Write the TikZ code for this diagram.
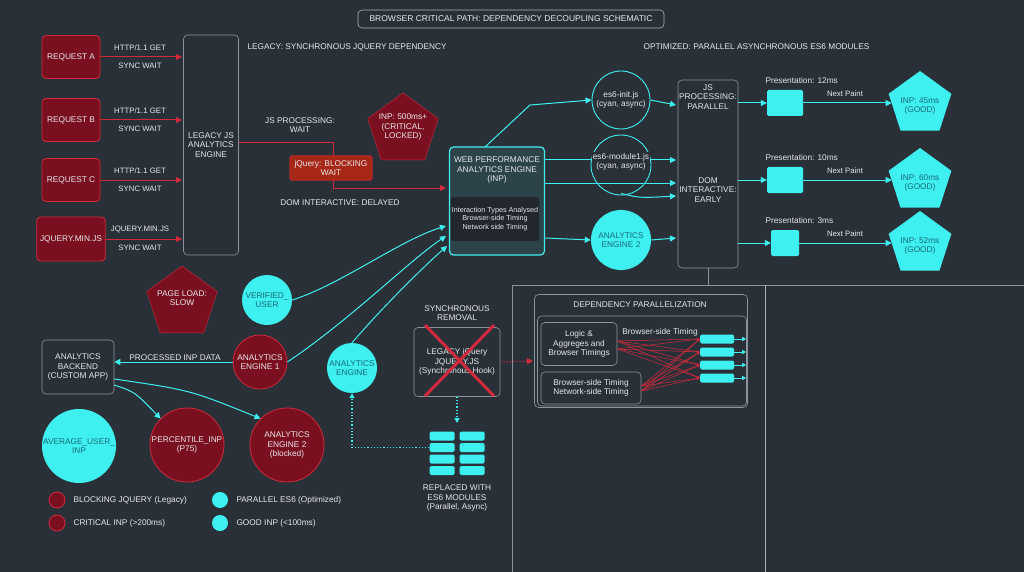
\documentclass[tikz,border=0pt]{standalone}
\usepackage{fontspec}
\setmainfont{Liberation Sans}
\usetikzlibrary{shapes.geometric,arrows.meta}
\definecolor{bg}{HTML}{2A3038}
\definecolor{rfill}{HTML}{7A0F20}
\definecolor{rline}{HTML}{D02A3C}
\definecolor{cy}{HTML}{3EF0F0}
\definecolor{gr}{HTML}{8A949C}
\definecolor{ofill}{HTML}{A82818}
\definecolor{txt}{HTML}{E6E8EA}
\definecolor{dtxt}{HTML}{1A6A78}
\begin{document}
\begin{tikzpicture}[x=1pt,y=-1pt,
  every node/.style={font=\fontsize{8.3}{9.5}\selectfont,text=txt,align=center},
  rbox/.style={draw=rline,fill=rfill,rounded corners=4pt,line width=0.8pt},
  gbox/.style={draw=gr,rounded corners=4pt,line width=0.6pt},
  rcirc/.style={circle,draw=rline,fill=rfill,line width=0.8pt,inner sep=0pt},
  ccirc/.style={circle,fill=cy,inner sep=0pt,text=dtxt},
  ocirc/.style={circle,draw=cy,line width=0.9pt,inner sep=0pt},
  rpent/.style={regular polygon,regular polygon sides=5,draw=rline,fill=rfill,inner sep=0pt},
  cpent/.style={regular polygon,regular polygon sides=5,fill=cy,inner sep=0pt,text=dtxt},
  rar/.style={-{Triangle[length=6pt,width=6pt]},draw=rline,line width=1pt},
  car/.style={-{Triangle[length=6pt,width=6pt]},draw=cy,line width=1pt},
  csq/.style={fill=cy,rounded corners=1.5pt,inner sep=0pt},
  lbl/.style={font=\fontsize{7.8}{9}\selectfont}]
\fill[bg] (0,0) rectangle (1024,572);
\useasboundingbox (0,0) rectangle (1024,572);
% title
\node[gbox,draw=gr!70,minimum width=306pt,minimum height=18pt,font=\fontsize{8.5}{9}\selectfont] (title) at (511,19) {BROWSER CRITICAL PATH: DEPENDENCY DECOUPLING SCHEMATIC};
% legacy side
\node[rbox,minimum width=58pt,minimum height=43pt] (ra) at (71,57) {REQUEST A};
\node[rbox,minimum width=58pt,minimum height=43pt] (rb) at (71,120) {REQUEST B};
\node[rbox,minimum width=58pt,minimum height=43pt] (rc) at (71,180) {REQUEST C};
\node[rbox,minimum width=67pt,minimum height=44pt] (jq) at (71,239) {JQUERY.MIN.JS};
\node[gbox,minimum width=55pt,minimum height=220pt] (leg) at (211,145) {LEGACY JS\\ANALYTICS\\ENGINE};
\foreach \n/\y in {ra/57,rb/120,rc/180,jq/239}{
  \coordinate (e\n) at (182,\y);
  \draw[rar] (\n.east|-e\n) -- (e\n);
  \node[lbl] at (140,\y+9) {SYNC WAIT};
}
\node[lbl] at (140,48) {HTTP/1.1 GET};
\node[lbl] at (140,111) {HTTP/1.1 GET};
\node[lbl] at (140,171) {HTTP/1.1 GET};
\node[lbl] at (140,230) {JQUERY.MIN.JS};
\node[anchor=west] (legt) at (244,47) {LEGACY: SYNCHRONOUS JQUERY DEPENDENCY};
\node (jsw) at (300,125) {JS PROCESSING:\\WAIT};
\node[rpent,minimum size=74pt] (inp500) at (403,130) {};
\node at (403,127) {INP: 500ms+\\(CRITICAL,\\LOCKED)};
\node (domd) at (340,203) {DOM INTERACTIVE: DELAYED};
% web engine
\node[draw=cy,line width=1.2pt,fill=cy!10!bg,rounded corners=4pt,minimum width=95pt,minimum height=108pt] (web) at (497,201) {};
\node at (497,170) {WEB PERFORMANCE\\ANALYTICS ENGINE\\(INP)};
\node[fill=bg!80!black,rounded corners=3pt,minimum width=84pt,minimum height=44pt,inner sep=1pt,font=\fontsize{7.2}{8.5}\selectfont] (webin) at (495,219) {Interaction Types Analysed\\Browser-side Timing\\Network side Timing};
\coordinate (webl) at (446,188);
\draw[rar] (leg.east|-0,143) -- (333,143) -- (333,188) -- (webl);
\node[fill=ofill,draw=rline,rounded corners=3pt,minimum width=83pt,minimum height=25pt] (block) at (331,168) {jQuery: BLOCKING\\WAIT};
% right side
\node[ocirc,minimum size=58pt] (es1) at (621,100) {};
\node at (621,100) {es6-init.js\\(cyan, async)};
\coordinate (w1) at (530,105);
\draw[car] (web.north|-0,147) ++(-12,0) -- (w1) -- (es1.west);
\draw[car] (es1.east) -- (676,105);
\draw[car] (web.east|-0,160) -- (676,160);
\draw[car] (web.east|-0,183) -- (676,183);
\node[ocirc,minimum size=60pt] (es2) at (621,165) {};
\node[fill=bg,inner sep=1pt] at (621,162) {es6-module1.js\\(cyan, async)};
\node[ccirc,minimum size=60pt] (ae2) at (621,240) {ANALYTICS\\ENGINE 2};
\node[gbox,minimum width=60pt,minimum height=188pt] (jsp) at (708,174) {};
\node at (708,97) {JS\\PROCESSING:\\PARALLEL};
\node at (708,190) {DOM\\INTERACTIVE:\\EARLY};
\draw[car] (es2.south) ++(0,-2) .. controls (640,198) .. (676,196);
\draw[car] (web.east|-0,238) -- (ae2.west);
\draw[car] (ae2.east) -- (676,238);
\foreach \i/\y/\w/\p/\v in {1/103/36/12ms/45ms,2/180/36/10ms/60ms,3/243/28/3ms/52ms}{
  \node[csq,minimum width=\w pt,minimum height=26pt] (sq\i) at (785,\y) {};
  \node[cpent,minimum size=66pt] (ip\i) at (920,\y+1) {};
  \node[text=dtxt] at (920,\y+3) {INP: \v\\(GOOD)};
  \node[anchor=west] at (762,\y-22) {Presentation: \p};
  \node[lbl] at (845,\y-9) {Next Paint};
  \draw[car] (jsp.east|-sq\i) -- (sq\i.west);
  \draw[car] (sq\i.east) -- (ip\i.west|-sq\i);
}
\node[anchor=west] (optt) at (640,47) {OPTIMIZED: PARALLEL ASYNCHRONOUS ES6 MODULES};
% panel lines
\draw[gr,line width=0.6pt] (jsp.south) -- (708,285);
\draw[gr,line width=0.6pt] (512,572) -- (512,285) -- (1024,285);
\draw[gr!70,line width=0.6pt] (765,285) -- (765,572);
% dependency parallelization
\node[gbox,minimum width=213pt,minimum height=113pt] (dep) at (641,351) {};
\node at (640,305) {DEPENDENCY PARALLELIZATION};
\node[gbox,minimum width=209pt,minimum height=90pt] (depin) at (642,361) {};
\node[gbox,minimum width=76pt,minimum height=43pt] (logic) at (579,344) {Logic \&\\Aggreges and\\Browser Timings};
\node[gbox,minimum width=100pt,minimum height=32pt] (bst) at (591,388) {Browser-side Timing\\Network-side Timing};
\node at (660,332) {Browser-side Timing};
\foreach \j/\y in {1/339,2/352,3/365,4/378}{
  \node[csq,minimum width=34pt,minimum height=9pt] (bar\j) at (717,\y) {};
  \draw[-{Triangle[length=4pt,width=4pt]},cy,line width=0.8pt] (bar\j.east) -- ++(12,0);
}
\foreach \j in {1,...,4}{
  \draw[rline,line width=0.5pt,-{Stealth[length=3pt]}] (logic.east) ++(0,-3) -- (bar\j.west);
  \draw[rline,line width=0.5pt,-{Stealth[length=3pt]}] (logic.east) ++(0,5) -- (bar\j.west);
  \draw[rline,line width=0.5pt,-{Stealth[length=3pt]}] (bst.east) ++(0,-2) -- (bar\j.west);
  \draw[rline,line width=0.5pt,-{Stealth[length=3pt]}] (bst.east) ++(0,3) -- (bar\j.west);
}
% synchronous removal
\node (srt) at (457,313) {SYNCHRONOUS\\REMOVAL};
\node[gbox,minimum width=86pt,minimum height=69pt] (lj) at (457,362) {LEGACY jQuery\\JQUERY.JS\\(Synchronous Hook)};
\draw[rline,line width=3pt] (425,325) -- (494,396) (494,325) -- (425,396);
\draw[rline,dotted,line width=1.2pt,-{Triangle[length=6pt,width=6pt]}] (lj.east) -- (533,361);
\foreach \c/\x in {0/442,1/472}{\foreach \r in {0,...,3}{
  \node[csq,minimum width=25pt,minimum height=9pt] (g\c\r) at (\x,436+\r*11.5) {};}}
\draw[cy,dotted,line width=1.2pt,-{Triangle[length=5pt,width=5pt]}] (lj.south) -- (457,423);
\node (repl) at (457,498) {REPLACED WITH\\ES6 MODULES\\(Parallel, Async)};
% lower left
\node[rpent,minimum size=74pt] (pl) at (182,303) {};
\node at (182,298) {PAGE LOAD:\\SLOW};
\node[ccirc,minimum size=50pt] (vu) at (267,300) {VERIFIED\_\\USER};
\node[rcirc,minimum size=54pt] (ae1) at (260,362) {ANALYTICS\\ENGINE 1};
\node[ccirc,minimum size=50pt] (ae) at (352,368) {ANALYTICS\\ENGINE};
\node[gbox,minimum width=72pt,minimum height=54pt] (back) at (78,367) {ANALYTICS\\BACKEND\\(CUSTOM APP)};
\node (pid) at (175,358) {PROCESSED INP DATA};
\draw[car] (ae1.west) -- (back.east|-ae1);
\draw[car] (vu.east) .. controls (340,285) and (400,240) .. (446,226);
\draw[car] (ae1.east) .. controls (350,320) and (410,260) .. (446,236);
\draw[car] (ae.north) .. controls (380,310) and (420,270) .. (447,246);
\draw[cy,dotted,line width=1.2pt,-{Triangle[length=5pt,width=5pt]}] (g01.west) -| (ae.south);
\node[ccirc,minimum size=74pt] (avg) at (79,446) {AVERAGE\_USER\_\\INP};
\node[rcirc,minimum size=74pt] (pct) at (187,445) {PERCENTILE\_INP\\(P75)};
\node[rcirc,minimum size=74pt] (ae2b) at (287,445) {ANALYTICS\\ENGINE 2\\(blocked)};
\draw[car] (back.east|-0,385) .. controls (135,392) .. (pct.north west);
\draw[car] (back.east|-0,379) .. controls (190,390) .. (ae2b.north west);
% legend
\node[rcirc,minimum size=16pt] (l1) at (57,500) {};
\node[anchor=west] at (70,500) {BLOCKING JQUERY (Legacy)};
\node[rcirc,minimum size=16pt] (l2) at (57,523) {};
\node[anchor=west] at (70,523) {CRITICAL INP (>200ms)};
\node[ccirc,minimum size=16pt] (l3) at (220,500) {};
\node[anchor=west] at (233,500) {PARALLEL ES6 (Optimized)};
\node[ccirc,minimum size=16pt] (l4) at (220,523) {};
\node[anchor=west] at (233,523) {GOOD INP (<100ms)};
\end{tikzpicture}
\end{document}
